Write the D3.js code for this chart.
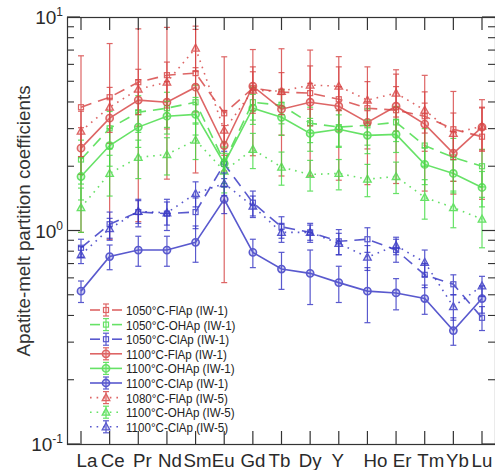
<!DOCTYPE html>
<html><head><meta charset="utf-8">
<script src="https://cdn.jsdelivr.net/npm/d3@7"></script>
<style>
html,body{margin:0;padding:0;background:#fff;}
svg{display:block;font-family:"Liberation Sans",Arial,sans-serif;}
</style></head>
<body>
<svg id="chart" width="495" height="470"></svg>
<script>
// ---- data ----
const categories = ["La","Ce","Pr","Nd","Sm","Eu","Gd","Tb","Dy","Y","Ho","Er","Tm","Yb","Lu"];
const yTickValues = [0.1, 1, 10];
const yTickExponents = ["-1", "0", "1"];

const fl1050 = [3.78,4.21,4.95,5.34,5.46,3.54,4.64,4.45,4.40,4.12,3.74,3.66,3.43,2.98,2.75];
const fl1050Err = [2.8,3.3,3.85,3.6,3.6,2.97,2.4,2.65,2.6,2.4,2.1,2.0,1.9,1.5,1.35];
const oh1050 = [2.15,3.01,3.58,3.74,3.99,2.10,3.99,3.86,3.18,3.05,3.11,3.21,2.50,2.20,2.00];
const oh1050Err = [0.5,0.6,0.7,0.7,0.8,0.5,0.7,0.7,0.6,0.6,0.6,0.6,0.5,0.5,0.4];
const cl1050 = [0.83,1.07,1.22,1.20,1.22,2.05,1.35,1.04,0.98,0.89,0.91,0.81,0.62,0.56,0.39];
const cl1050Err = [0.08,0.15,0.18,0.2,0.2,0.3,0.18,0.12,0.1,0.12,0.12,0.1,0.08,0.06,0.05];
const fl1100 = [2.43,3.36,4.08,3.99,4.69,2.50,4.74,3.70,3.99,3.82,3.21,3.82,3.15,2.30,3.05];
const fl1100Err = [0.6,0.8,1.0,1.0,1.1,0.6,1.1,0.9,0.9,0.9,0.8,0.9,0.8,0.6,0.7];
const oh1100 = [1.79,2.50,3.05,3.43,3.50,2.06,3.74,3.39,2.85,2.98,2.79,2.82,2.04,1.85,1.59];
const oh1100Err = [0.4,0.5,0.6,0.6,0.7,0.4,0.6,0.6,0.5,0.5,0.5,0.5,0.4,0.35,0.3];
const cl1100 = [0.52,0.755,0.81,0.81,0.88,1.40,0.79,0.66,0.63,0.57,0.52,0.51,0.48,0.34,0.48];
const cl1100Err = [0.06,0.1,0.13,0.13,0.17,0.2,0.12,0.13,0.18,0.11,0.15,0.085,0.075,0.05,0.07];
const fl1080w5 = [2.92,3.78,4.59,4.95,7.15,2.95,4.54,4.49,4.80,4.74,4.08,4.40,3.66,2.85,3.08];
const fl1080w5Err = [0.7,0.9,1.1,1.2,1.6,0.7,1.0,1.0,1.1,1.1,0.9,1.0,0.8,0.7,0.7];
const oh1100w5 = [1.28,1.85,2.20,2.27,2.65,1.90,2.40,1.98,1.83,1.85,1.74,1.79,1.43,1.28,1.13];
const oh1100w5Err = [0.3,0.4,0.45,0.45,0.5,0.4,0.45,0.35,0.3,0.3,0.3,0.3,0.3,0.25,0.3];
const cl1100w5 = [0.77,1.02,1.23,1.21,1.49,1.66,1.30,0.98,0.98,0.87,0.75,0.85,0.71,0.44,0.55];
const cl1100w5Err = [0.07,0.12,0.15,0.15,0.2,0.2,0.15,0.1,0.08,0.1,0.1,0.08,0.1,0.06,0.06];

const seriesNames = ["1050°C-FlAp (IW-1)","1050°C-OHAp (IW-1)","1050°C-ClAp (IW-1)",
  "1100°C-FlAp (IW-1)","1100°C-OHAp (IW-1)","1100°C-ClAp (IW-1)",
  "1080°C-FlAp (IW-5)","1100°C-OHAp (IW-5)","1100°C-ClAp (IW-5)"];

// ---- styles ----
const RED = "#d74444", GREEN = "#45dc45", BLUE = "#3535c4";
const series = [
  {name: seriesNames[0], v: fl1050, e: fl1050Err, color: RED, dash: "11,7", marker: "square"},
  {name: seriesNames[1], v: oh1050, e: oh1050Err, color: GREEN, dash: "11,7", marker: "square"},
  {name: seriesNames[2], v: cl1050, e: cl1050Err, color: BLUE, dash: "11,7", marker: "square"},
  {name: seriesNames[3], v: fl1100, e: fl1100Err, color: RED, dash: null, marker: "circle"},
  {name: seriesNames[4], v: oh1100, e: oh1100Err, color: GREEN, dash: null, marker: "circle"},
  {name: seriesNames[5], v: cl1100, e: cl1100Err, color: BLUE, dash: null, marker: "circle"},
  {name: seriesNames[6], v: fl1080w5, e: fl1080w5Err, color: RED, dash: "1.6,5", marker: "triangle"},
  {name: seriesNames[7], v: oh1100w5, e: oh1100w5Err, color: GREEN, dash: "1.6,5", marker: "triangle"},
  {name: seriesNames[8], v: cl1100w5, e: cl1100w5Err, color: BLUE, dash: "1.6,5", marker: "triangle"}
];
// horizontal nudges of the category labels (layout only)
const labelNudge = {La:6, Ce:3, Pr:4, Nd:3, Sm:2, Eu:-1, Gd:0, Tb:-2, Dy:0, Y:-1, Ho:8, Er:6, Tm:6, Yb:4, Lu:0};

const svg = d3.select("#chart");
const L = 67, R = 495, T = 17, B = 444;
const x = d3.scalePoint().domain(categories).range([81, 482]);
const y = d3.scaleLog().domain([0.1, 10]).range([B, T]);

svg.append("defs").append("clipPath").attr("id", "clip")
  .append("rect").attr("x", L).attr("y", T).attr("width", R - L).attr("height", B - T);
const plot = svg.append("g").attr("clip-path", "url(#clip)");

function drawMarker(g, type, cx, cy, color) {
  if (type === "circle") {
    g.append("circle").attr("cx", cx).attr("cy", cy).attr("r", 3.6)
      .attr("fill", color).attr("fill-opacity", 0.25).attr("stroke", color).attr("stroke-width", 1.6);
  } else if (type === "square") {
    g.append("rect").attr("x", cx - 2.5).attr("y", cy - 2.5).attr("width", 5).attr("height", 5)
      .attr("fill", "none").attr("stroke", color).attr("stroke-width", 1.2);
  } else {
    const s = 4;
    g.append("path").attr("d", `M${cx},${cy - s}L${cx + s * 0.95},${cy + s * 0.75}L${cx - s * 0.95},${cy + s * 0.75}Z`)
      .attr("fill", color).attr("fill-opacity", 0.25).attr("stroke", color).attr("stroke-width", 1.3);
  }
}

function errBar(g, cx, y0, y1, color) {
  g.append("line").attr("x1", cx).attr("x2", cx).attr("y1", y0).attr("y2", y1)
    .attr("stroke", color).attr("stroke-width", 1.2);
  [y0, y1].forEach(yy => g.append("line").attr("x1", cx - 3).attr("x2", cx + 3)
    .attr("y1", yy).attr("y2", yy).attr("stroke", color).attr("stroke-width", 1.2));
}

series.forEach(s => {
  const g = plot.append("g").attr("opacity", 0.82);
  const pts = categories.map((c, i) => ({c, v: s.v[i], e: s.e[i]}));
  pts.forEach(p => {
    const lo = Math.max(p.v - p.e, 0.1001);
    errBar(g, x(p.c), y(p.v + p.e), y(lo), s.color);
  });
  const line = d3.line().x(p => x(p.c)).y(p => y(p.v));
  g.append("path").datum(pts).attr("d", line).attr("fill", "none")
    .attr("stroke", s.color).attr("stroke-width", 1.6)
    .attr("stroke-dasharray", s.dash);
  pts.forEach(p => drawMarker(g, s.marker, x(p.c), y(p.v), s.color));
});

// ---- axes / frame ----
const axG = svg.append("g").attr("stroke", "#333").attr("fill", "none");
axG.append("rect").attr("x", L + 0.5).attr("y", T + 0.5).attr("width", R - L).attr("height", B - T)
  .attr("stroke-width", 1.2);

categories.forEach(c => {
  axG.append("line").attr("x1", x(c)).attr("x2", x(c)).attr("y1", T).attr("y2", T + 13).attr("stroke-width", 1.2);
  axG.append("line").attr("x1", x(c)).attr("x2", x(c)).attr("y1", B).attr("y2", B - 13).attr("stroke-width", 1.2);
});
const minor = [];
[0.1, 1].forEach(d => { for (let k = 2; k <= 9; k++) minor.push(d * k); });
minor.forEach(v => {
  axG.append("line").attr("x1", L).attr("x2", L + 7).attr("y1", y(v)).attr("y2", y(v)).attr("stroke-width", 1.1);
  axG.append("line").attr("x1", R).attr("x2", R - 7).attr("y1", y(v)).attr("y2", y(v)).attr("stroke-width", 1.1);
});
yTickValues.forEach(v => {
  axG.append("line").attr("x1", L).attr("x2", L + 13).attr("y1", y(v)).attr("y2", y(v)).attr("stroke-width", 1.2);
  axG.append("line").attr("x1", R).attr("x2", R - 13).attr("y1", y(v)).attr("y2", y(v)).attr("stroke-width", 1.2);
});

yTickValues.forEach((v, i) => {
  const t = svg.append("text").attr("x", 63).attr("y", y(v) + 7).attr("text-anchor", "end")
    .attr("font-size", 19).attr("fill", "#2a2a2a");
  t.append("tspan").text("10");
  t.append("tspan").attr("dy", -8).attr("font-size", 12).text(yTickExponents[i]);
});

categories.forEach(c => {
  svg.append("text").attr("x", x(c) + labelNudge[c]).attr("y", 467).attr("text-anchor", "middle")
    .attr("font-size", 18.7).attr("fill", "#2a2a2a").text(c);
});

svg.append("text").attr("transform", "translate(30,221) rotate(-90)")
  .attr("text-anchor", "middle").attr("font-size", 18.8).attr("fill", "#333")
  .text("Apatite-melt partition coefficients");

// ---- legend ----
const lg = svg.append("g");
series.forEach((s, i) => {
  const ly = 310 + i * 14.6;
  const g = lg.append("g").attr("opacity", 0.82);
  if (s.dash === null) {
    g.append("line").attr("x1", 90).attr("x2", 122).attr("y1", ly).attr("y2", ly)
      .attr("stroke", s.color).attr("stroke-width", 1.6);
  } else if (s.marker === "square") {
    [[90, 100], [112, 122]].forEach(([a, b]) => g.append("line").attr("x1", a).attr("x2", b)
      .attr("y1", ly).attr("y2", ly).attr("stroke", s.color).attr("stroke-width", 1.6));
  } else {
    g.append("line").attr("x1", 90).attr("x2", 122).attr("y1", ly).attr("y2", ly)
      .attr("stroke", s.color).attr("stroke-width", 1.6).attr("stroke-dasharray", s.dash);
  }
  errBar(g, 106, ly - 6, ly + 6, s.color);
  drawMarker(g, s.marker, 106, ly, s.color);
  lg.append("text").attr("transform", `translate(126,${ly + 5}) scale(0.86,1)`)
    .attr("font-size", 13.5).attr("fill", "#222").text(s.name);
});
</script>
</body></html>
